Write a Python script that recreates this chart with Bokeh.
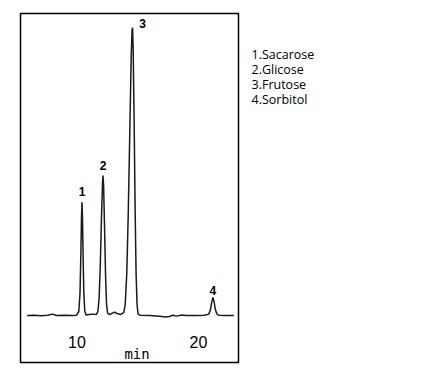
from bokeh.plotting import figure
from bokeh.layouts import row
from bokeh.models import ColumnDataSource, Range1d
from bokeh.core.properties import value
from bokeh.embed import file_html
from bokeh.resources import INLINE

# ---- data ----
time_min = [5.9, 6.5, 7.0, 7.6, 8.0, 8.3, 9.0, 9.6, 9.95, 10.15, 10.25, 10.32, 10.37, 10.41,
            10.45, 10.5, 10.56, 10.64, 10.75, 11.0, 11.3, 11.6, 11.72, 11.82, 11.92, 12.02,
            12.1, 12.14, 12.19, 12.27, 12.35, 12.43, 12.52, 12.7, 12.95, 13.1, 13.3, 13.6,
            13.85, 13.97, 14.1, 14.22, 14.35, 14.46, 14.53, 14.57, 14.62, 14.7, 14.78, 14.86,
            14.94, 15.02, 15.2, 16.0, 16.8, 17.3, 17.6, 17.9, 18.2, 18.6, 19.0, 19.8, 20.5,
            20.85, 20.98, 21.08, 21.18, 21.28, 21.38, 21.5, 21.65, 22.2, 22.9]
signal = [0.0, 0.1, -0.1, 0.1, 0.5, 0.0, 0.1, 0.0, 0.1, 1.5, 8, 22, 34, 39.3,
          34, 21, 8, 1.5, 0.2, 0.4, 0.5, 0.4, 1.5, 6, 18, 35,
          46, 48.6, 45, 30, 14, 4, 0.8, 0.3, 0.9, 1.2, 0.7, 0.4,
          1.0, 4, 15, 36, 65, 90, 99, 100, 93, 68, 38, 15,
          4, 0.6, 0.1, 0.0, -0.2, -0.5, -0.3, 0.1, -0.2, 0.2, 0.0, 0.0, 0.1,
          0.5, 2, 4.5, 6.3, 4.8, 2.2, 0.6, 0.1, 0.0, 0.0]

peak_ids = ["1", "2", "3", "4"]
peak_time = [10.41, 12.14, 14.57, 21.18]
peak_height = [39.3, 48.6, 100, 6.3]
compounds = ["Sacarose", "Glicose", "Frutose", "Sorbitol"]

tick_values = [10, 20]
tick_labels = ["10", "20"]
x_title = "min"

# ---- main chromatogram ----
p = figure(output_backend="svg", toolbar_location=None,
           frame_width=218, frame_height=349,
           x_range=Range1d(5.35, 23.29), y_range=Range1d(-16.3, 104.9),
           x_axis_location=None, y_axis_location=None,
           min_border_left=20, min_border_right=5, min_border_top=13, min_border_bottom=8)
p.grid.visible = False
p.outline_line_color = "black"
p.outline_line_width = 1.5
p.background_fill_color = "white"
p.border_fill_color = "white"

p.line(time_min, signal, line_color="#1a1a1a", line_width=1.5)

lab_src = ColumnDataSource(dict(x=peak_time, y=peak_height, t=peak_ids,
                                xo=[0, 0, 10, 0], yo=[-11, -10, -4, -7]))
p.text(x="x", y="y", text="t", source=lab_src, x_offset="xo", y_offset="yo",
       text_align="center", text_baseline="middle",
       text_font=value("Liberation Sans"), text_font_style="bold",
       text_font_size="12px", text_color="black")

tick_src = ColumnDataSource(dict(x=tick_values, y=[p.y_range.start] * len(tick_values), t=tick_labels))
p.text(x="x", y="y", text="t", source=tick_src, y_offset=-21,
       text_align="center", text_baseline="middle",
       text_font=value("Liberation Sans"), text_font_size="16px", text_color="black")

p.text(x=[(tick_values[0] + tick_values[1]) / 2 - 0.06], y=[p.y_range.start], text=[x_title],
       y_offset=-9, text_align="center", text_baseline="middle",
       text_font=value("DejaVu Sans Mono"), text_font_size="14px", text_color="black")

# ---- legend panel ----
q = figure(output_backend="svg", toolbar_location=None,
           width=175, height=370, x_range=Range1d(0, 175), y_range=Range1d(370, 0),
           x_axis_location=None, y_axis_location=None, min_border=0)
q.grid.visible = False
q.outline_line_color = None
q.background_fill_color = "white"
q.border_fill_color = "white"

leg_text = [f"{i}.{c}" for i, c in zip(peak_ids, compounds)]
leg_src = ColumnDataSource(dict(x=[8] * len(leg_text),
                                y=[43 + 16 * k for k in range(len(leg_text))], t=leg_text))
q.text(x="x", y="y", text="t", source=leg_src, text_align="left", text_baseline="middle",
       text_font=value("Open Sans"), text_font_size="12.5px", text_color="black")

layout = row(p, q)
open("out.html", "w").write(file_html(layout, INLINE))
